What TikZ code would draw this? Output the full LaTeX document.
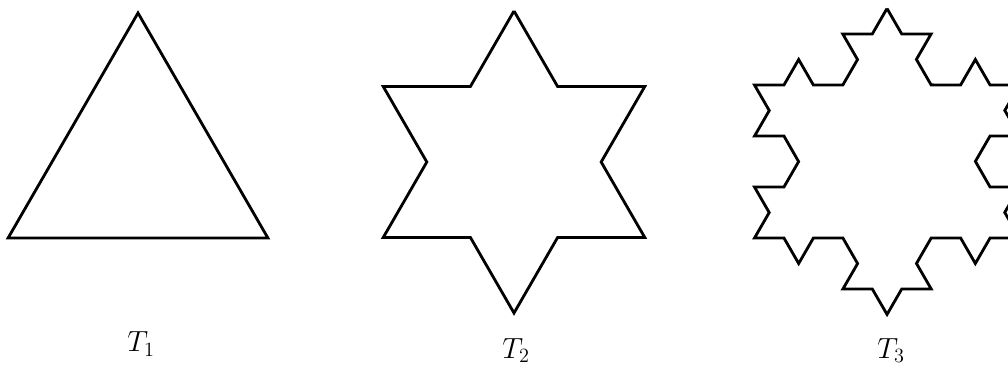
\documentclass[tikz,border=0pt]{standalone}
\usetikzlibrary{decorations.fractals}
\begin{document}
\begin{tikzpicture}[koch/.style={decoration=Koch snowflake,line width=2pt,line join=miter},lbl/.style={anchor=base,font=\fontsize{20}{24}\selectfont}]
\useasboundingbox (0,0) rectangle (25.2,9.175);\clip (0,0) rectangle (25.2,9.175);
\coordinate (C1) at (3.45,5.1);\coordinate (C2) at (12.85,5.125);\coordinate (C3) at (22.175,5.1375);
% T1: the triangle
\draw[koch] ([shift={(90:3.75)}]C1)--([shift={(-30:3.75)}]C1)--([shift={(210:3.75)}]C1)--cycle;
% T2 and T3: one and two Koch steps
\draw[koch] decorate{([shift={(90:3.775)}]C2)--([shift={(-30:3.775)}]C2)--([shift={(210:3.775)}]C2)--cycle};
\draw[koch] decorate{decorate{([shift={(90:3.825)}]C3)--([shift={(-30:3.825)}]C3)--([shift={(210:3.825)}]C3)--cycle}};
\node[lbl] (L1) at (3.525,0.38) {$T_1$};\node[lbl] (L2) at (12.9,0.22) {$T_2$};\node[lbl] (L3) at (22.275,0.22) {$T_3$};
\end{tikzpicture}
\end{document}
